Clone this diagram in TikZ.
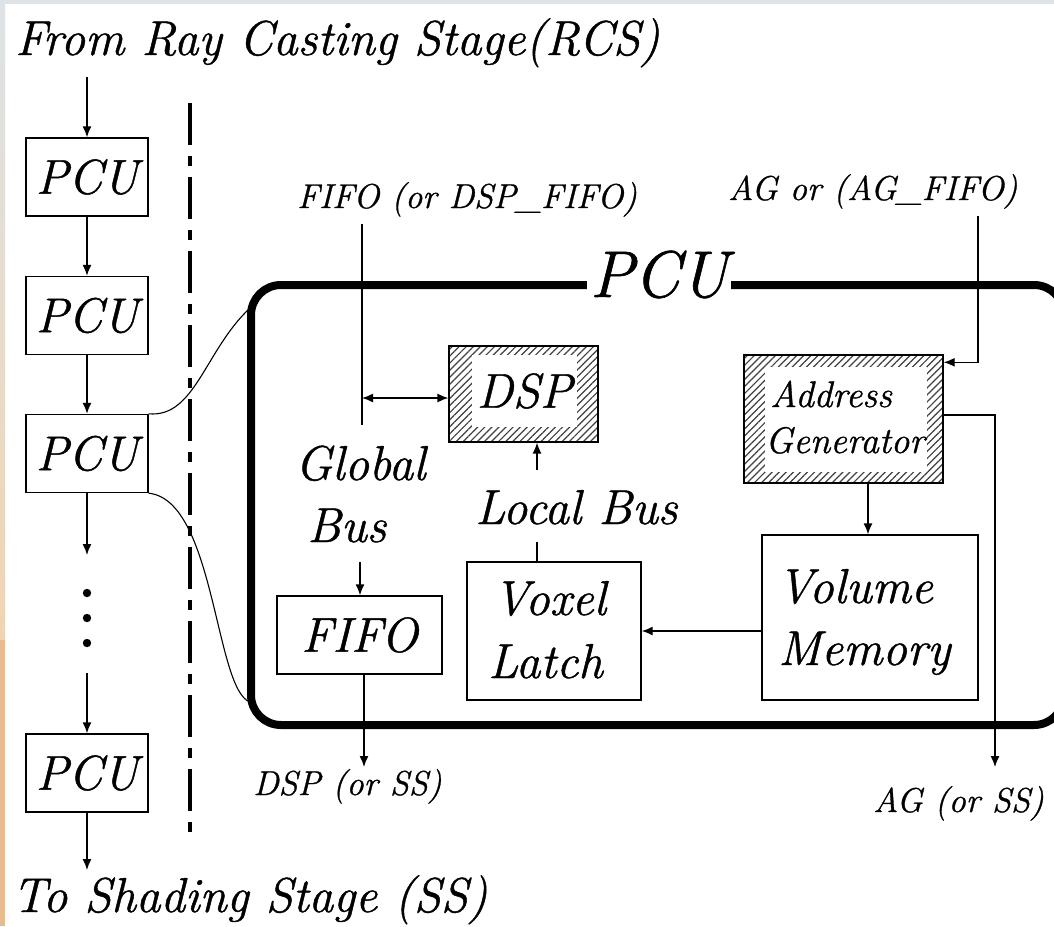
\documentclass[tikz,border=0pt]{standalone}
\usepackage{fontspec}
\setmainfont{Latin Modern Roman}[ItalicFeatures={FakeBold=0.9}]
\usetikzlibrary{arrows.meta,patterns.meta,calc}
\newcommand\fA{\fontsize{49}{54}\selectfont\itshape}
\newcommand\fB{\fontsize{37}{40}\selectfont\itshape}
\newcommand\fC{\fontsize{66}{72}\selectfont\itshape}
\newcommand\fD{\fontsize{34.5}{40}\selectfont\itshape}
\begin{document}
\begin{tikzpicture}[x=1pt,y=-1pt,
  box/.style={draw, line width=1.4pt, inner sep=0pt},
  hatch/.style={draw, line width=1.4pt, inner sep=0pt,
    pattern={Lines[angle=45,distance=5pt,line width=1.2pt]}, pattern color=black!75},
  wire/.style={line width=1.4pt},
  arr/.style={wire,-{Latex[length=11pt,width=9pt]}},
  dbl/.style={wire,{Latex[length=11pt,width=9pt]}-{Latex[length=11pt,width=9pt]}},
  lbl/.style={inner sep=0pt, anchor=base west},
  ]
\useasboundingbox (0,0) rectangle (1054,926);
\clip (0,0) rectangle (1054,926);
\fill[white] (0,0) rectangle (1054,926);
% background frame
\fill[color={rgb,255:red,221;green,227;blue,230}] (0,0) rectangle (1054,4);
\shade[top color={rgb,255:red,221;green,227;blue,230}, bottom color={rgb,255:red,240;green,212;blue,178}] (0,0) rectangle (5,640);
\fill[color={rgb,255:red,232;green,188;blue,142}] (0,640) rectangle (5,926);

% left column
\node[lbl, font=\fA] (title) at (15,55) {From Ray Casting Stage(RCS)};
\node[lbl, font=\fA] (to) at (12,912) {To Shading Stage (SS)};
\node[box, minimum width=122, minimum height=78, font=\fA] (p1) at (87,177) {PCU};
\node[box, minimum width=122, minimum height=78, font=\fA] (p2) at (87,315.5) {PCU};
\node[box, minimum width=122, minimum height=78, font=\fA] (p3) at (87,453.5) {PCU};
\node[box, minimum width=122, minimum height=78, font=\fA] (p4) at (87,773) {PCU};
\coordinate (in) at (87,77);
\coordinate (d1) at (87,555);
\coordinate (d2) at (87,673);
\coordinate (out) at (87,870);
\draw[arr] (in) -- (p1.north);
\draw[arr] (p1.south) -- (p2.north);
\draw[arr] (p2.south) -- (p3.north);
\draw[arr] (p3.south) -- (d1);
\draw[arr] (d2) -- (p4.north);
\draw[arr] (p4.south) -- (out);
\fill (87,593) circle (4.2);
\fill (87,618) circle (4.2);
\fill (87,643) circle (4.2);

% separator
\coordinate (s1) at (190,103);
\coordinate (s2) at (190,837);
\draw[line width=4pt, dash pattern=on 42pt off 11pt on 10pt off 11pt] (s1) -- (s2);

% big PCU box
\node[draw, line width=8pt, rounded corners=30pt, minimum width=813, minimum height=440, inner sep=0pt] (big) at (657.5,505) {};
\node[fill=white, inner sep=3pt, font=\fC, anchor=base] (bigl) at (659,297) {PCU};

% zoom curves
\coordinate (c1) at (250,308);
\coordinate (c2) at (250,702);
\draw[line width=1.1pt] (p3.north east) .. controls (195,418) and (205,350) .. (c1);
\draw[line width=1.1pt] (p3.south east) .. controls (215,500) and (215,690) .. (c2);

% DSP
\node[hatch, minimum width=149, minimum height=96] (dsp) at (523.5,394) {};
\node[fill=white, minimum width=105, minimum height=72, inner sep=0pt, font=\fA] (dspt) at (524.5,391) {DSP};

% Address generator
\node[hatch, minimum width=199, minimum height=128] (ag) at (843.5,419) {};
\node[fill=white, minimum width=162, minimum height=105, inner sep=0pt] (agw) at (846,419.5) {};
\node[lbl, font=\fB] (agt1) at (770,407) {Address};
\node[lbl, font=\fB] (agt2) at (765,453) {Generator};

% FIFO, Voxel latch, Volume memory
\node[box, minimum width=165, minimum height=78, font=\fA] (fifo) at (359.5,635) {FIFO};
\node[box, minimum width=174, minimum height=138] (vl) at (554,631) {};
\node[lbl, font=\fA] (vlt1) at (493,615) {Voxel};
\node[lbl, font=\fA] (vlt2) at (488,678) {Latch};
\node[box, minimum width=216, minimum height=165] (vm) at (870,617.5) {};
\node[lbl, font=\fA] (vmt1) at (777,603) {Volume};
\node[lbl, font=\fA] (vmt2) at (778,665) {Memory};

% labels
\node[lbl, font=\fD] (fifolbl) at (297,208) {FIFO (or DSP\_FIFO)};
\node[lbl, font=\fD] (aglbl) at (728,200) {AG or (AG\_FIFO)};
\node[lbl, font=\fD] (dspss) at (253,795) {DSP (or SS)};
\node[lbl, font=\fD] (agss) at (873,812) {AG (or SS)};
\node[lbl, font=\fA] (glob) at (295,480) {Global};
\node[lbl, font=\fA] (gbus) at (307,542) {Bus};
\node[lbl, font=\fA] (lbus) at (475,524) {Local Bus};

% global bus
\coordinate (gtop) at (362,224);
\coordinate (gbot) at (362,425);
\coordinate (gb) at (362,398);
\draw[wire] (gtop) -- (gbot);
\draw[dbl] (gb) -- (gb -| dsp.west);
\coordinate (gin) at (360,562);
\draw[arr] (gin) -- (gin |- fifo.north);
\coordinate (fout) at (364,767);
\draw[arr] (fout |- fifo.south) -- (fout);

% local bus
\coordinate (lb1) at (537,542);
\coordinate (lb2) at (537,470);
\draw[wire] (lb1 |- vl.north) -- (lb1);
\draw[arr] (lb2) -- (lb2 |- dsp.south);

% volume memory to voxel latch
\draw[arr] (vl.east -| vm.west) -- (vl.east);

% AG connections
\coordinate (agin) at (978,216);
\draw[arr] (agin) |- ([yshift=-8pt]ag.north east);
\draw[arr] (ag.south -| 868,0) -- (vm.north -| 868,0);
\coordinate (agout) at (995,767);
\draw[arr] ([yshift=4pt]ag.east) -| (agout);
\end{tikzpicture}
\end{document}
